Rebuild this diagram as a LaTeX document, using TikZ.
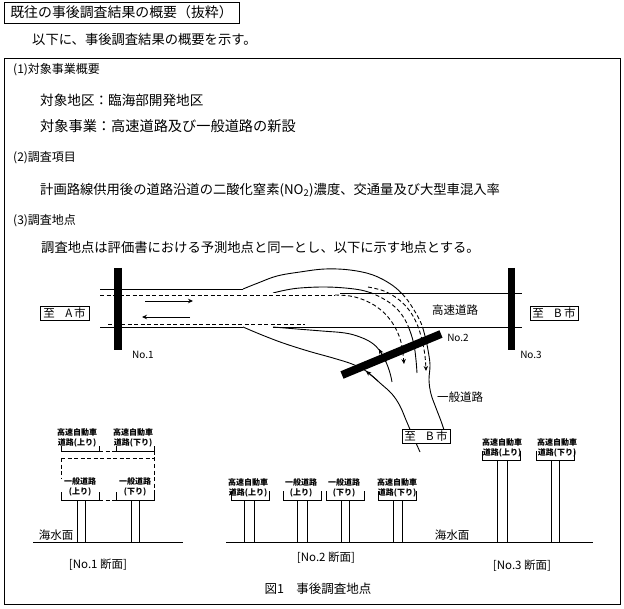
\documentclass[tikz,border=0pt]{standalone}
\usepackage{fontspec}
\setmainfont{Noto Sans CJK JP}
\usetikzlibrary{arrows.meta}
\newcommand\fsz[1]{\fontsize{#1}{#1}\selectfont}
\begin{document}
\begin{tikzpicture}[x=1pt,y=-1pt,
  ln/.style={line width=0.9pt},
  dsh/.style={line width=0.9pt,dash pattern=on 4pt off 2.5pt},
  txt/.style={inner sep=0pt,anchor=west},
  bar/.style={line width=8pt},
  arr/.style={-{Stealth[length=5pt,width=4.5pt]}},
  sec/.style={inner sep=0pt,align=center,font=\fontsize{8}{10}\selectfont\bfseries},
  cityb/.style={draw,line width=0.9pt,fill=white,inner sep=0pt,minimum width=48pt,minimum height=14pt,font=\fsz{11.5}},
  lbl/.style={inner sep=0pt,font=\fsz{11.5}},
  nolbl/.style={inner sep=0pt,font=\fsz{10}},
]
\useasboundingbox (0,0) rectangle (624,609);
\fill[white] (0,0) rectangle (624,609);

% ---------- header texts ----------
\node[draw,line width=0.9pt,minimum width=235pt,minimum height=21pt,inner sep=0pt,font=\fsz{13.9}] (title) at (121.5,12.5) {既往の事後調査結果の概要（抜粋）};
\node[txt,font=\fsz{13.3}] (intro) at (32,39) {以下に、事後調査結果の概要を示す。};
\draw[ln] (4,58) rectangle (620,604);
\node[txt,font=\fsz{12}] (h1) at (13,70) {(1)対象事業概要};
\node[txt,font=\fsz{13.6}] (t1) at (40,100) {対象地区：臨海部開発地区};
\node[txt,font=\fsz{14.2}] (t2) at (40,126) {対象事業：高速道路及び一般道路の新設};
\node[txt,font=\fsz{12}] (h2) at (13,158) {(2)調査項目};
\node[txt,font=\fsz{13.3}] (t3) at (40,190) {計画路線供用後の道路沿道の二酸化窒素(NO\textsubscript{2})濃度、交通量及び大型車混入率};
\node[txt,font=\fsz{12}] (h3) at (13,221) {(3)調査地点};
\node[txt,font=\fsz{13.3}] (t4) at (41,247) {調査地点は評価書における予測地点と同一とし、以下に示す地点とする。};

% ---------- plan of roads ----------
% left highway section
\draw[dsh] (100,295) -- (335,295);
\draw[dsh] (108,324) -- (305,324);
\draw[ln] (273,327) -- (522,327);
\draw[ln] (340,293) -- (522,293);
% upper ramp lines: solid outside the highway band, dashed inside
\begin{scope}
  \clip (0,0) rectangle (624,293) (0,327) rectangle (624,609);
  \draw[ln] (100,289) -- (243,289);
  \draw[ln] plot[smooth,tension=0.6] coordinates {(243,289) (258,283) (277,276) (300,272) (325,269) (350,270) (373,275) (392,285) (405,297) (414,310) (421,323) (425,336) (428,350) (430,365) (429,380) (431,394) (436,408) (441,421) (444,430)};
  \draw[ln] plot[smooth,tension=0.6] coordinates {(273,293) (286,290) (300,288) (323,287) (345,288) (365,291) (382,298) (395,307) (404,318) (410,331) (414,345) (416,360) (417,373)};
\end{scope}
\begin{scope}
  \clip (300,293) rectangle (624,327);
  \draw[dsh] plot[smooth,tension=0.6] coordinates {(243,289) (258,283) (277,276) (300,272) (325,269) (350,270) (373,275) (392,285) (405,297) (414,310) (421,323) (425,336) (428,350) (430,365)};
  \draw[dsh] plot[smooth,tension=0.6] coordinates {(273,293) (286,290) (300,288) (323,287) (345,288) (365,291) (382,298) (395,307) (404,318) (410,331) (414,345) (416,360) (417,373)};
\end{scope}
% off-ramp lane lines (dashed with arrows)
\draw[dsh,arr] plot[smooth,tension=0.6] coordinates {(335,295) (350,296) (364,300) (377,307) (388,317) (396,329) (401,342) (403,354) (404,364)};
\draw[dsh,arr] plot[smooth,tension=0.6] coordinates {(368,287) (384,291) (398,299) (409,310) (417,324) (422,340) (425,356) (426,371)};
% lower lines (on-ramps / general road)
\draw[ln] (100,327) -- (243,327);
\draw[ln] plot[smooth,tension=0.6] coordinates {(243,327) (262,335) (283,343) (308,351) (333,358) (352,364) (366,371) (380,383) (392,394) (400,406) (406,420) (412,434) (420,452)};
\draw[ln] plot[smooth,tension=0.6] coordinates {(273,327) (297,329) (322,331) (345,333) (360,337) (372,343) (380,351) (386,362) (390,373) (392,382)};
\draw[ln,arr] (386,362) -- (379,349);
\draw[ln,arr] (378,381) -- (366,371);
% travel arrows on highway
\coordinate (a1s) at (145,301); \coordinate (a1e) at (193,301);
\coordinate (a2s) at (190,317); \coordinate (a2e) at (142,317);
\draw[ln,arr] (a1s) -- (a1e);
\draw[ln,arr] (a2s) -- (a2e);
% survey section bars
\coordinate (b1t) at (118,268); \coordinate (b1b) at (118,350);
\coordinate (b3t) at (511.5,268); \coordinate (b3b) at (511.5,350);
\coordinate (b2a) at (342,375); \coordinate (b2b) at (441,334);
\draw[bar] (b1t) -- (b1b);
\draw[bar,line width=7pt] (b3t) -- (b3b);
\draw[bar] (b2a) -- (b2b);
% labels
\node[nolbl] (no1) at (143,355) {No.1};
\node[nolbl] (no2) at (458,338) {No.2};
\node[nolbl] (no3) at (531,355) {No.3};
\node[lbl] (hwy) at (455,310) {高速道路};
\node[lbl] (gen) at (460,397) {一般道路};
\node[cityb,minimum width=49pt] (toA) at (64.5,313) {至\hspace{0.9em}A\hspace{0.15em}市};
\node[cityb] (toB1) at (554,313) {至\hspace{0.9em}B\hspace{0.2em}市};
\node[cityb] (toB2) at (426,436) {至\hspace{0.9em}B\hspace{0.2em}市};

% ---------- cross sections ----------
% No.1
\node[sec] (s1a) at (77,438) {高速自動車\\道路(上り)};
\node[sec] (s1b) at (133,438) {高速自動車\\道路(下り)};
\draw[ln] (61,446) -- (61,451) -- (99,451) -- (99,446);
\draw[ln] (116,446) -- (116,451) -- (154,451) -- (154,446);
\draw[dsh] (99,451) -- (116,451);
\draw[dsh] (61,458) -- (154,458);
\draw[dsh] (61,458) -- (61,478);
\draw[dsh] (154,451) -- (154,493);
\node[sec] (s1c) at (80,486.5) {一般道路\\(上り)};
\node[sec] (s1d) at (135,486.5) {一般道路\\(下り)};
\draw[ln] (61,492) -- (61,500) -- (99,500) -- (99,492);
\draw[ln] (116,492) -- (116,500) -- (154,500) -- (154,492);
\draw[dsh] (99,500) -- (116,500);
\foreach \px in {77,85,131,139} \draw[ln] (\px,500) -- (\px,542);
\draw[ln] (33,542) -- (183,542);
\node[lbl] (sea1) at (56,535) {海水面};
\node[lbl] (cap1) at (98,565) {[No.1 断面]};
% No.2
\node[sec] (s2a) at (248,488) {高速自動車\\道路(上り)};
\node[sec] (s2b) at (301,488) {一般道路\\(上り)};
\node[sec] (s2c) at (344,488) {一般道路\\(下り)};
\node[sec] (s2d) at (397,488) {高速自動車\\道路(下り)};
\foreach \cx in {250,302,345,397.5} \draw[ln] (\cx-19,491) -- (\cx-19,500) -- (\cx+19,500) -- (\cx+19,491);
\foreach \px in {244,254,297,307,341,349,393,402} \draw[ln] (\px,500) -- (\px,542);
\draw[ln] (226,542) -- (593,542);
\node[lbl] (cap2) at (326,558) {[No.2 断面]};
% No.3
\node[sec] (s3a) at (502,447.5) {高速自動車\\道路(上り)};
\node[sec] (s3b) at (557,447.5) {高速自動車\\道路(下り)};
\foreach \cx in {501,555} \draw[ln] (\cx-19,451) -- (\cx-19,460) -- (\cx+19,460) -- (\cx+19,451);
\foreach \px in {497,507,551,559} \draw[ln] (\px,460) -- (\px,542);
\node[lbl] (sea3) at (452,535) {海水面};
\node[lbl] (cap3) at (522,566) {[No.3 断面]};

\node[lbl,font=\fsz{12.5}] (fig) at (318,589) {図1　事後調査地点};
\end{tikzpicture}
\end{document}
